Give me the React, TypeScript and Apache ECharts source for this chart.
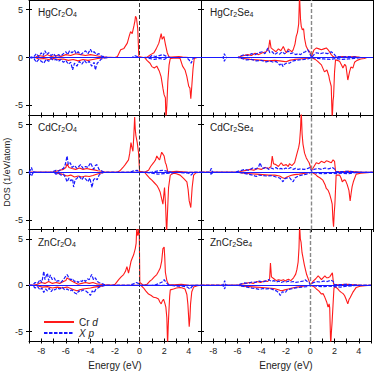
import React, { useEffect, useRef } from "react";
import * as echarts from "echarts";

// ---------- data: [energy (eV), DOS (1/eV/atom)] ----------
const xTicksLabels = [-8, -6, -4, -2, 0, 2, 4];
const yTickValues = [-5, 0, 5];

const hgO_crUp = [[-9,0],[-8.5,0],[-8.2,0.2],[-7.8,0.1],[-7.5,0.3],[-7.2,0.1],[-6.8,0.2],[-6.4,0.1],[-6,0.3],[-5.6,0.2],[-5.2,0.4],[-4.8,0.3],[-4.4,0.2],[-4,0.3],[-3.6,0.2],[-3.2,0.1],[-2.8,0.05],[-2,0],[-1.8,0.1],[-1.54,0.8],[-1.27,0.95],[-1.0,1.5],[-0.85,2.2],[-0.73,2.7],[-0.6,2.5],[-0.46,3.3],[-0.38,3.8],[-0.33,4.3],[-0.25,4.1],[-0.15,3.0],[-0.06,0.1],[0.3,0],[0.63,0.05],[0.9,0.3],[1.17,0.5],[1.35,0.9],[1.57,1.5],[1.76,2.5],[1.84,1.9],[1.98,2.2],[2.1,1.4],[2.25,0.5],[2.4,0.05],[2.6,0.05],[3.2,0.1],[3.5,0.05],[4,0],[5,0]];
const hgO_crDn = [[-9,0],[-8.5,0],[-8.2,-0.15],[-7.8,-0.1],[-7.4,-0.2],[-7,-0.1],[-6.6,-0.2],[-6.2,-0.15],[-5.8,-0.3],[-5.4,-0.2],[-5,-0.35],[-4.6,-0.2],[-4.2,-0.3],[-3.8,-0.2],[-3.4,-0.1],[-3,-0.05],[-2.5,0],[0.4,0],[0.6,-0.3],[0.85,-0.6],[1.0,-0.95],[1.2,-1.1],[1.4,-0.9],[1.6,-1.4],[1.75,-2.0],[1.9,-3.2],[2.0,-3.9],[2.1,-4.2],[2.15,-6.5],[2.22,-5.0],[2.3,-2.5],[2.4,-0.8],[2.5,-0.1],[3.0,-0.05],[3.3,-0.1],[3.5,-0.9],[3.7,-1.3],[3.85,-2.0],[4.0,-3.0],[4.1,-3.2],[4.17,-4.3],[4.25,-3.0],[4.35,-1.2],[4.45,-0.1],[4.7,0],[5,0]];
const hgO_xUp = [[-9,0],[-8.6,0.1],[-8.4,0.4],[-8.2,0.1],[-8.0,0.5],[-7.85,0.2],[-7.7,0.7],[-7.55,0.3],[-7.4,0.5],[-7.2,0.2],[-7.0,0.4],[-6.8,0.1],[-6.6,0.3],[-6.4,0.15],[-6.2,0.4],[-6.0,0.6],[-5.85,0.3],[-5.7,0.7],[-5.5,0.5],[-5.3,0.75],[-5.15,0.4],[-5.0,0.6],[-4.8,0.3],[-4.6,0.5],[-4.4,0.7],[-4.2,0.4],[-4.0,0.85],[-3.85,0.5],[-3.7,0.6],[-3.5,0.3],[-3.3,0.4],[-3.1,0.15],[-2.9,0.1],[-2.6,0],[-0.6,0],[-0.4,0.2],[-0.2,0.1],[0,0],[0.8,0],[1.0,0.2],[1.3,0.1],[1.6,0.2],[1.9,0.3],[2.2,0.1],[2.5,0],[5,0]];
const hgO_xDn = [[-9,0],[-8.6,-0.1],[-8.4,-0.5],[-8.2,-0.2],[-8.0,-0.4],[-7.8,-0.6],[-7.6,-0.2],[-7.4,-0.4],[-7.2,-0.1],[-7.0,-0.3],[-6.8,-0.2],[-6.6,-0.4],[-6.4,-0.2],[-6.2,-0.5],[-6.0,-0.3],[-5.8,-0.7],[-5.6,-0.5],[-5.45,-1.3],[-5.3,-0.6],[-5.1,-0.9],[-4.9,-0.4],[-4.7,-0.7],[-4.5,-0.3],[-4.3,-0.6],[-4.1,-0.4],[-3.9,-0.9],[-3.7,-0.5],[-3.6,-1.3],[-3.45,-0.6],[-3.3,-0.4],[-3.1,-0.15],[-2.9,-0.05],[-2.6,0],[0.5,0],[0.8,-0.1],[1.2,-0.2],[1.6,-0.1],[2.0,-0.2],[2.3,0],[3.8,0],[4.0,-0.2],[4.2,-0.6],[4.35,-0.1],[4.5,0],[5,0]];

const hgSe_crUp = [[-9,0],[-6,0],[-5.8,0.1],[-5.5,0.2],[-5.2,0.3],[-4.9,0.2],[-4.6,0.45],[-4.3,0.3],[-4.0,0.5],[-3.7,0.6],[-3.5,0.9],[-3.4,1.85],[-3.3,1.0],[-3.1,0.8],[-2.9,0.6],[-2.7,0.9],[-2.5,0.7],[-2.3,1.15],[-2.15,0.7],[-2.05,0.5],[-1.9,0.9],[-1.8,0.8],[-1.6,0.6],[-1.5,0.8],[-1.35,1.4],[-1.25,2.2],[-1.15,2.6],[-1.05,3.5],[-0.98,6.5],[-0.9,4.0],[-0.84,3.25],[-0.75,2.9],[-0.65,3.0],[-0.57,2.0],[-0.45,1.2],[-0.3,0.8],[-0.15,0.6],[0,0.1],[0.1,0.5],[0.2,0.8],[0.4,1.0],[0.6,0.9],[0.8,0.8],[1.0,0.9],[1.2,1.0],[1.35,0.8],[1.46,0.6],[1.6,0.3],[1.75,0.1],[1.9,0],[2.5,0.1],[3,0.05],[3.5,0.1],[4,0],[5,0]];
const hgSe_crDn = [[-9,0],[-6,0],[-5.5,-0.1],[-5,-0.2],[-4.5,-0.25],[-4,-0.3],[-3.5,-0.35],[-3,-0.3],[-2.6,-0.35],[-2.3,-0.4],[-2.06,-0.45],[-1.8,-0.3],[-1.4,-0.2],[-1,-0.15],[-0.5,-0.1],[0,0],[0.3,-0.2],[0.5,-0.4],[0.8,-0.77],[1.05,-1.5],[1.25,-1.3],[1.4,-1.9],[1.46,-2.3],[1.6,-3.0],[1.68,-6.5],[1.75,-4.5],[1.79,-4.1],[1.87,-1.5],[1.95,-0.25],[2.1,-0.3],[2.28,-0.4],[2.45,-0.8],[2.55,-1.1],[2.7,-0.7],[2.8,-0.9],[2.95,-2.35],[3.09,-1.5],[3.2,-1.0],[3.36,-1.1],[3.5,-0.5],[3.7,-0.3],[4.0,-0.15],[4.3,-0.1],[4.5,0],[5,0]];
const hgSe_xUp = [[-9,0],[-7.2,0],[-7.1,0.4],[-7.0,0.1],[-6.9,0],[-6.0,0],[-5.8,0.15],[-5.5,0.3],[-5.2,0.2],[-4.9,0.4],[-4.6,0.3],[-4.3,0.5],[-4.0,0.6],[-3.8,0.4],[-3.55,1.0],[-3.4,0.5],[-3.2,0.6],[-3.0,0.3],[-2.8,0.5],[-2.6,0.35],[-2.4,0.6],[-2.2,0.4],[-2.0,0.55],[-1.9,0.7],[-1.7,0.4],[-1.5,0.5],[-1.3,0.3],[-1.1,0.4],[-0.9,0.3],[-0.7,0.5],[-0.5,0.6],[-0.3,0.8],[-0.15,0.4],[0,0],[0.2,0.3],[0.4,0.5],[0.7,0.4],[1.0,0.5],[1.3,0.4],[1.6,0.6],[1.8,0.4],[2.0,0.1],[2.5,0.05],[3,0.1],[4,0],[5,0]];
const hgSe_xDn = [[-9,0],[-7.2,0],[-7.1,-0.4],[-7.0,-0.1],[-6.9,0],[-6.0,0],[-5.7,-0.1],[-5.3,-0.25],[-4.9,-0.2],[-4.5,-0.35],[-4.1,-0.3],[-3.7,-0.45],[-3.4,-0.35],[-3.1,-0.5],[-2.9,-0.4],[-2.7,-0.6],[-2.6,-0.8],[-2.45,-0.6],[-2.33,-0.95],[-2.2,-0.7],[-2.0,-0.55],[-1.8,-0.6],[-1.6,-0.4],[-1.3,-0.3],[-1.0,-0.25],[-0.6,-0.2],[-0.3,-0.15],[0,0],[0.5,-0.1],[1,-0.15],[1.5,-0.2],[2,-0.1],[2.5,-0.2],[3,-0.15],[3.5,-0.1],[4,0],[5,0]];

const cdO_crUp = [[-9,0],[-7,0],[-6.8,0.1],[-6.5,0.2],[-6.2,0.3],[-6.0,0.5],[-5.9,0.9],[-5.75,0.5],[-5.5,0.4],[-5.2,0.3],[-4.9,0.45],[-4.6,0.3],[-4.3,0.4],[-4.0,0.3],[-3.7,0.25],[-3.4,0.15],[-3.1,0.1],[-2.8,0],[-1.8,0],[-1.57,0.2],[-1.35,0.5],[-1.17,0.8],[-0.9,1.3],[-0.8,2.0],[-0.7,3.1],[-0.62,2.6],[-0.54,2.2],[-0.47,3.8],[-0.4,5.8],[-0.35,4.5],[-0.3,3.85],[-0.19,3.1],[-0.08,2.0],[0,0.1],[0.4,0],[0.73,0.2],[0.9,0.6],[1.14,1.0],[1.3,1.3],[1.4,1.7],[1.55,1.4],[1.63,1.3],[1.8,2.1],[1.9,1.9],[2.0,1.7],[2.1,1.0],[2.17,0.8],[2.3,0.05],[2.6,0.05],[3.0,0.1],[3.5,0.05],[4,0],[5,0]];
const cdO_crDn = [[-9,0],[-7,0],[-6.7,-0.1],[-6.3,-0.2],[-5.9,-0.4],[-5.6,-0.3],[-5.3,-0.5],[-5.0,-0.4],[-4.7,-0.5],[-4.4,-0.4],[-4.1,-0.45],[-3.8,-0.35],[-3.5,-0.2],[-3.2,-0.1],[-2.8,0],[0.4,0],[0.6,-0.3],[0.8,-0.6],[1.0,-0.83],[1.2,-1.1],[1.4,-1.37],[1.55,-1.7],[1.68,-2.1],[1.8,-2.8],[1.9,-3.35],[2.03,-1.6],[2.12,-3.5],[2.2,-6.5],[2.28,-4.0],[2.36,-1.6],[2.5,-0.3],[2.76,-0.1],[3.0,-0.15],[3.3,-0.3],[3.58,-0.65],[3.85,-1.0],[3.95,-1.8],[4.04,-3.0],[4.17,-3.7],[4.28,-1.6],[4.4,-0.3],[4.6,-0.05],[5,0]];
const cdO_xUp = [[-9,0],[-8.9,0.2],[-8.8,0.5],[-8.7,0.1],[-8.5,0],[-7.2,0],[-7.0,0.1],[-6.8,0.2],[-6.6,0.1],[-6.4,0.3],[-6.2,0.4],[-6.05,0.8],[-5.9,1.7],[-5.8,0.8],[-5.64,1.0],[-5.5,0.5],[-5.3,0.7],[-5.1,0.4],[-4.95,0.6],[-4.8,0.8],[-4.6,0.4],[-4.4,0.6],[-4.2,0.5],[-4.0,1.0],[-3.85,0.6],[-3.74,0.3],[-3.6,0.7],[-3.47,0.8],[-3.3,0.3],[-3.1,0.15],[-2.9,0],[-0.8,0],[-0.5,0.15],[-0.2,0.2],[0,0],[1.0,0],[1.5,0.15],[1.9,0.2],[2.3,0.1],[2.6,0],[5,0]];
const cdO_xDn = [[-9,0],[-8.9,-0.2],[-8.8,-0.4],[-8.7,-0.1],[-8.5,0],[-7.0,0],[-6.8,-0.2],[-6.6,-0.1],[-6.4,-0.3],[-6.2,-0.2],[-6.05,-0.5],[-5.9,-1.0],[-5.75,-0.6],[-5.6,-0.9],[-5.45,-0.7],[-5.37,-1.55],[-5.25,-0.8],[-5.1,-0.65],[-4.95,-0.4],[-4.8,-0.6],[-4.7,-0.8],[-4.55,-0.5],[-4.4,-0.7],[-4.2,-1.0],[-4.05,-0.6],[-3.87,-1.6],[-3.75,-0.8],[-3.6,-0.6],[-3.45,-0.8],[-3.3,-0.3],[-3.1,-0.1],[-2.9,0],[0.5,0],[1.0,-0.1],[1.5,-0.2],[2.0,-0.15],[2.5,-0.1],[3,0],[4.0,-0.1],[4.2,-0.3],[4.4,0],[5,0]];

const cdSe_crUp = [[-9,0],[-6,0],[-5.7,0.1],[-5.3,0.2],[-5.0,0.3],[-4.7,0.2],[-4.4,0.4],[-4.1,0.3],[-3.8,0.5],[-3.5,0.4],[-3.3,0.6],[-3.2,1.7],[-3.1,0.9],[-2.9,0.8],[-2.7,0.6],[-2.47,1.0],[-2.3,0.7],[-2.06,0.8],[-1.9,0.6],[-1.8,0.9],[-1.6,0.7],[-1.38,1.0],[-1.2,1.9],[-1.05,2.6],[-0.98,3.1],[-0.9,4.5],[-0.84,6.5],[-0.77,4.0],[-0.7,2.95],[-0.57,2.0],[-0.43,1.5],[-0.3,1.2],[-0.2,1.0],[-0.1,0.6],[0,0.2],[0.1,0.4],[0.38,1.0],[0.6,0.9],[0.79,1.15],[1.05,1.0],[1.2,1.2],[1.33,1.15],[1.6,1.0],[1.75,1.3],[1.87,1.15],[1.95,0.1],[2.3,0.05],[3,0.1],[3.6,0.05],[4.2,0],[5,0]];
const cdSe_crDn = [[-9,0],[-6,0],[-5.5,-0.1],[-5,-0.15],[-4.5,-0.2],[-4,-0.25],[-3.5,-0.3],[-3,-0.3],[-2.6,-0.4],[-2.4,-0.55],[-2.2,-0.65],[-2.0,-0.5],[-1.7,-0.35],[-1.4,-0.25],[-1,-0.2],[-0.5,-0.1],[0,0],[0.3,-0.2],[0.5,-0.45],[0.7,-0.6],[0.92,-0.83],[1.1,-1.3],[1.2,-1.7],[1.35,-1.9],[1.46,-2.25],[1.6,-2.9],[1.68,-3.35],[1.74,-5.0],[1.79,-5.7],[1.85,-4.2],[1.9,-3.3],[2.0,-0.3],[2.28,-0.3],[2.4,-0.6],[2.5,-1.0],[2.65,-0.8],[2.76,-0.85],[2.9,-1.3],[3.04,-1.9],[3.14,-3.0],[3.22,-2.2],[3.3,-1.5],[3.4,-1.0],[3.63,-0.2],[4.0,-0.1],[4.5,-0.05],[5,0]];
const cdSe_xUp = [[-9,0],[-8.3,0],[-8.2,0.3],[-8.15,0.4],[-8.1,0.1],[-8.0,0],[-6.2,0],[-6.0,0.1],[-5.7,0.2],[-5.4,0.3],[-5.1,0.2],[-4.8,0.45],[-4.5,0.35],[-4.3,0.6],[-4.2,1.0],[-4.05,0.5],[-3.9,0.4],[-3.7,0.55],[-3.5,0.3],[-3.3,0.45],[-3.1,0.35],[-2.9,0.5],[-2.7,0.3],[-2.5,0.4],[-2.3,0.3],[-2.1,0.45],[-1.9,0.35],[-1.7,0.5],[-1.5,0.3],[-1.3,0.4],[-1.1,0.3],[-0.9,0.35],[-0.6,0.3],[-0.3,0.4],[-0.1,0.5],[0,0.1],[0.2,0.3],[0.5,0.4],[0.8,0.3],[1.1,0.45],[1.4,0.35],[1.7,0.5],[1.9,0.3],[2.0,0.05],[3,0.1],[3.8,0],[5,0]];
const cdSe_xDn = [[-9,0],[-8.3,0],[-8.2,-0.2],[-8.1,-0.1],[-8.0,0],[-6.0,0],[-5.6,-0.1],[-5.2,-0.2],[-4.8,-0.3],[-4.5,-0.45],[-4.3,-0.3],[-4.0,-0.35],[-3.6,-0.4],[-3.2,-0.35],[-2.9,-0.5],[-2.6,-0.6],[-2.45,-0.8],[-2.33,-1.0],[-2.2,-0.7],[-2.0,-0.6],[-1.8,-0.55],[-1.65,-0.8],[-1.5,-1.0],[-1.35,-0.6],[-1.1,-0.4],[-0.8,-0.3],[-0.4,-0.2],[0,0],[0.5,-0.1],[1.0,-0.15],[1.5,-0.1],[2.0,-0.15],[2.5,-0.1],[3.0,-0.15],[3.5,-0.05],[4,0],[5,0]];

const znO_crUp = [[-9,0],[-8.6,0],[-8.3,0.1],[-8.0,0.3],[-7.7,0.2],[-7.4,0.4],[-7.1,0.2],[-6.8,0.3],[-6.5,0.2],[-6.2,0.4],[-6.0,0.5],[-5.9,0.8],[-5.6,0.5],[-5.3,0.3],[-5.0,0.1],[-4.7,0.2],[-4.4,0.3],[-4.1,0.2],[-3.8,0.3],[-3.5,0.15],[-3.2,0.1],[-2.9,0.05],[-2.2,0],[-2.0,0.1],[-1.7,0.6],[-1.5,0.9],[-1.3,1.15],[-1.15,1.5],[-1.03,2.0],[-0.9,1.3],[-0.8,1.9],[-0.7,2.55],[-0.6,2.9],[-0.49,3.25],[-0.35,3.95],[-0.28,4.5],[-0.22,6.5],[-0.18,5.5],[-0.14,5.35],[-0.08,5.8],[-0.03,6.5],[0.02,0.3],[0.3,0],[0.6,0.1],[0.8,0.4],[1.0,0.6],[1.2,0.9],[1.4,1.15],[1.55,1.5],[1.68,1.85],[1.8,2.6],[1.9,3.95],[2.0,4.1],[2.05,3.0],[2.1,1.4],[2.22,0.5],[2.36,0.05],[2.8,0.05],[3.4,0.1],[4,0],[5,0]];
const znO_crDn = [[-9,0],[-8.5,0],[-8.2,-0.1],[-7.9,-0.2],[-7.5,-0.15],[-7.1,-0.3],[-6.7,-0.2],[-6.3,-0.3],[-5.9,-0.2],[-5.6,-0.35],[-5.3,-0.5],[-5.1,-0.6],[-4.9,-0.5],[-4.6,-0.4],[-4.3,-0.35],[-4.0,-0.3],[-3.7,-0.2],[-3.4,-0.15],[-3.1,-0.1],[-2.8,0],[0.1,0],[0.33,-0.3],[0.5,-0.6],[0.73,-0.95],[0.95,-1.1],[1.14,-1.3],[1.35,-1.35],[1.54,-1.47],[1.65,-1.8],[1.76,-2.0],[1.85,-1.7],[1.95,-1.5],[2.05,-1.9],[2.14,-2.35],[2.22,-3.5],[2.28,-6.5],[2.33,-4.5],[2.38,-3.0],[2.45,-1.2],[2.5,-0.5],[2.76,-0.4],[3.0,-0.3],[3.3,-0.25],[3.5,-0.3],[3.7,-0.4],[3.85,-1.0],[3.93,-2.0],[4.04,-4.45],[4.1,-3.5],[4.15,-2.0],[4.25,-0.7],[4.4,-0.2],[4.7,-0.05],[5,0]];
const znO_xUp = [[-9,0],[-8.7,0],[-8.5,0.3],[-8.3,0.2],[-8.1,0.6],[-7.95,0.3],[-7.8,1.5],[-7.7,0.6],[-7.6,1.0],[-7.5,1.3],[-7.4,0.5],[-7.26,1.1],[-7.1,0.6],[-6.95,0.8],[-6.8,0.4],[-6.6,0.5],[-6.4,0.3],[-6.2,0.6],[-6.05,0.9],[-5.9,1.15],[-5.75,0.8],[-5.6,0.6],[-5.45,0.7],[-5.3,0.4],[-5.15,0.5],[-5.0,0.3],[-4.85,0.5],[-4.7,0.4],[-4.55,0.6],[-4.4,0.4],[-4.25,0.7],[-4.1,0.6],[-3.9,1.15],[-3.75,0.6],[-3.6,0.8],[-3.45,0.4],[-3.3,0.3],[-3.1,0.2],[-2.9,0.1],[-2.65,0],[-0.8,0],[-0.5,0.15],[-0.27,0.3],[-0.1,0.2],[0.05,0],[1.2,0],[1.6,0.2],[1.9,0.4],[2.0,0.6],[2.15,0.3],[2.4,0],[5,0]];
const znO_xDn = [[-9,0],[-8.7,0],[-8.5,-0.3],[-8.3,-0.15],[-8.1,-0.5],[-7.95,-0.3],[-7.8,-0.77],[-7.65,-0.4],[-7.5,-0.6],[-7.35,-0.3],[-7.2,-0.7],[-7.05,-0.4],[-6.9,-0.5],[-6.7,-0.3],[-6.5,-0.4],[-6.3,-0.2],[-6.1,-0.5],[-5.9,-0.4],[-5.7,-0.6],[-5.5,-0.5],[-5.3,-0.8],[-5.1,-0.95],[-4.95,-0.6],[-4.8,-0.7],[-4.6,-0.5],[-4.4,-0.6],[-4.2,-0.8],[-4.0,-1.1],[-3.85,-0.6],[-3.7,-0.8],[-3.55,-0.4],[-3.4,-0.3],[-3.2,-0.15],[-2.9,-0.05],[-2.65,0],[2.5,0],[3.0,-0.1],[3.5,-0.1],[3.9,-0.2],[4.1,-0.4],[4.3,-0.1],[4.5,0],[5,0]];

const znSe_crUp = [[-9,0],[-6,0],[-5.7,0.1],[-5.3,0.2],[-5.0,0.3],[-4.7,0.2],[-4.4,0.4],[-4.1,0.3],[-3.8,0.45],[-3.5,0.4],[-3.35,0.7],[-3.28,2.4],[-3.2,0.9],[-3.0,0.7],[-2.8,0.5],[-2.6,0.6],[-2.4,0.5],[-2.2,0.6],[-2.06,0.45],[-1.9,0.6],[-1.8,0.65],[-1.6,0.5],[-1.38,0.8],[-1.2,1.2],[-1.1,1.7],[-1.0,2.5],[-0.93,4.0],[-0.88,6.5],[-0.82,5.0],[-0.76,4.65],[-0.68,3.5],[-0.62,3.1],[-0.49,2.2],[-0.3,1.15],[-0.1,0.45],[0,0.1],[0.1,0.2],[0.24,0.45],[0.45,0.7],[0.65,1.0],[0.8,0.8],[0.92,0.6],[1.05,0.8],[1.2,1.0],[1.35,0.8],[1.46,0.8],[1.6,0.9],[1.75,1.2],[1.82,1.33],[1.92,0.1],[2.3,0.05],[3,0.1],[3.6,0.05],[4.2,0],[5,0]];
const znSe_crDn = [[-9,0],[-6,0],[-5.5,-0.1],[-5,-0.15],[-4.5,-0.2],[-4,-0.25],[-3.5,-0.3],[-3,-0.35],[-2.7,-0.45],[-2.5,-0.55],[-2.33,-0.6],[-2.1,-0.5],[-1.8,-0.4],[-1.5,-0.3],[-1.1,-0.2],[-0.6,-0.1],[0,0],[0.3,-0.15],[0.5,-0.4],[0.7,-0.6],[0.92,-0.95],[1.05,-0.9],[1.2,-1.3],[1.35,-1.8],[1.46,-2.35],[1.55,-2.0],[1.6,-2.4],[1.68,-6.5],[1.74,-5.0],[1.79,-4.1],[1.87,-2.2],[1.95,-0.3],[2.1,-0.2],[2.28,-0.4],[2.4,-0.6],[2.55,-0.77],[2.7,-0.9],[2.82,-1.1],[2.95,-1.5],[3.09,-2.0],[3.2,-1.5],[3.3,-1.3],[3.5,-0.77],[3.77,-0.25],[4.1,-0.1],[4.5,-0.05],[5,0]];
const znSe_xUp = [[-9,0],[-7.2,0],[-7.1,0.3],[-7.05,0.5],[-7.0,0.1],[-6.9,0],[-6.0,0],[-5.7,0.15],[-5.4,0.25],[-5.1,0.2],[-4.8,0.35],[-4.5,0.3],[-4.2,0.45],[-3.9,0.35],[-3.6,0.5],[-3.4,0.6],[-3.2,0.4],[-3.0,0.5],[-2.8,0.35],[-2.6,0.45],[-2.4,0.3],[-2.2,0.4],[-2.0,0.35],[-1.8,0.45],[-1.6,0.35],[-1.4,0.4],[-1.2,0.3],[-1.0,0.35],[-0.8,0.4],[-0.6,0.45],[-0.43,0.6],[-0.25,0.4],[-0.1,0.3],[0,0.05],[0.2,0.25],[0.5,0.4],[0.8,0.35],[1.1,0.45],[1.4,0.4],[1.7,0.55],[1.9,0.4],[2.0,0.05],[3,0.1],[4,0],[5,0]];
const znSe_xDn = [[-9,0],[-7.2,0],[-7.1,-0.3],[-7.05,-0.4],[-7.0,-0.1],[-6.9,0],[-6.0,0],[-5.6,-0.1],[-5.2,-0.2],[-4.8,-0.3],[-4.5,-0.35],[-4.2,-0.45],[-3.9,-0.35],[-3.6,-0.4],[-3.3,-0.35],[-3.0,-0.5],[-2.8,-0.6],[-2.6,-0.8],[-2.47,-1.1],[-2.3,-0.7],[-2.06,-0.8],[-1.9,-0.5],[-1.6,-0.4],[-1.3,-0.3],[-1.0,-0.25],[-0.6,-0.2],[-0.3,-0.15],[0,0],[0.5,-0.1],[1,-0.15],[1.5,-0.1],[2,-0.15],[2.5,-0.2],[3,-0.1],[3.5,-0.05],[4,0],[5,0]];

const panelTitles = [
  ["HgCr", "2", "O", "4"],
  ["HgCr", "2", "Se", "4"],
  ["CdCr", "2", "O", "4"],
  ["CdCr", "2", "Se", "4"],
  ["ZnCr", "2", "O", "4"],
  ["ZnCr", "2", "Se", "4"],
];
const panelData = [
  [hgO_crUp, hgO_crDn, hgO_xUp, hgO_xDn],
  [hgSe_crUp, hgSe_crDn, hgSe_xUp, hgSe_xDn],
  [cdO_crUp, cdO_crDn, cdO_xUp, cdO_xDn],
  [cdSe_crUp, cdSe_crDn, cdSe_xUp, cdSe_xDn],
  [znO_crUp, znO_crDn, znO_xUp, znO_xDn],
  [znSe_crUp, znSe_crDn, znSe_xUp, znSe_xDn],
];
const seriesNames = ["Cr d", "X p"];

const FONT = "'Liberation Sans', Arial, Helvetica, sans-serif";
const RED = "#ff1a1a";
const BLUE = "#1a1aff";
const BLUE_DASH = [3.5, 1.5];

function buildOption() {
  const colLeft = [29, 201];
  const colWidth = 172;
  const rowTop = [-1, 115, 229.5];
  const rowHeight = [116, 114.5, 115.5];

  const grid: any[] = [];
  const xAxis: any[] = [];
  const yAxis: any[] = [];
  const series: any[] = [];
  const graphic: any[] = [];

  const lineOn = { show: true, onZero: false, lineStyle: { color: "#000", width: 1 } };
  const lineOff = { show: false, onZero: false };

  for (let i = 0; i < 6; i++) {
    const row = Math.floor(i / 2);
    const col = i % 2;
    const isBottom = row === 2;
    const isLeft = col === 0;
    grid.push({ left: colLeft[col], top: rowTop[row], width: colWidth, height: rowHeight[row] });

    const xBase = {
      type: "value", gridIndex: i, min: -9, max: 5, interval: 1,
      splitLine: { show: false },
    };
    xAxis.push({
      ...xBase, position: "bottom",
      axisLine: lineOn,
      axisTick: { show: true, inside: false, length: 2.5, lineStyle: { color: "#000" } },
      axisLabel: {
        show: isBottom, margin: 5, fontSize: 9, color: "#222", fontFamily: FONT,
        formatter: (v: number) => (xTicksLabels.indexOf(v) >= 0 ? String(v) : ""),
      },
      name: isBottom ? "Energy (eV)" : "",
      nameLocation: "middle", nameGap: 19,
      nameTextStyle: { fontSize: 10, color: "#222", fontFamily: FONT },
    });
    xAxis.push({
      ...xBase, position: "bottom",
      axisLine: lineOff,
      axisTick: { show: true, inside: true, length: 2.5, lineStyle: { color: "#000" } },
      axisLabel: { show: false },
    });
    xAxis.push({
      ...xBase, position: "top",
      axisLine: lineOn,
      axisTick: { show: false },
      axisLabel: { show: false },
    });

    const yBase = { type: "value", gridIndex: i, min: -6, max: 6, splitLine: { show: false } };
    yAxis.push({
      ...yBase, position: "left",
      axisLine: lineOn,
      axisTick: { show: true, inside: false, length: 3, customValues: yTickValues, lineStyle: { color: "#000" } },
      axisLabel: { show: isLeft, margin: 6, fontSize: 9, color: "#222", fontFamily: FONT, customValues: yTickValues },
      name: i === 2 ? "DOS (1/eV/atom)" : "",
      nameLocation: "middle", nameGap: 17,
      nameTextStyle: { fontSize: 9, color: "#222", fontFamily: FONT },
    });
    yAxis.push({
      ...yBase, position: "left",
      axisLine: lineOff,
      axisTick: { show: true, inside: true, length: 3, customValues: yTickValues, lineStyle: { color: "#000" } },
      axisLabel: { show: false, customValues: yTickValues },
    });
    yAxis.push({
      ...yBase, position: "right",
      axisLine: lineOn,
      axisTick: { show: false },
      axisLabel: { show: false },
    });

    const [crUp, crDn, xUp, xDn] = panelData[i];
    const common = {
      type: "line", xAxisIndex: i * 3, yAxisIndex: i * 3,
      showSymbol: false, symbol: "none", clip: true, silent: true,
    };
    series.push({
      ...common, name: seriesNames[0], data: crUp,
      lineStyle: { color: RED, width: 1.1 }, itemStyle: { color: RED },
      markLine: {
        silent: true, symbol: ["none", "none"], label: { show: false },
        lineStyle: { type: [4, 2], color: isLeft ? "#333" : "#888", width: isLeft ? 1 : 1.4 },
        data: [{ xAxis: 0 }],
      },
    });
    series.push({ ...common, name: seriesNames[0], data: crDn, lineStyle: { color: RED, width: 1.1 }, itemStyle: { color: RED } });
    series.push({ ...common, name: seriesNames[1], data: xUp, lineStyle: { color: BLUE, width: 1.2, type: BLUE_DASH }, itemStyle: { color: BLUE } });
    series.push({
      ...common, name: seriesNames[1], data: xDn,
      lineStyle: { color: BLUE, width: 1.2, type: BLUE_DASH }, itemStyle: { color: BLUE },
      markLine: {
        silent: true, symbol: ["none", "none"], label: { show: false },
        lineStyle: { type: "solid", color: BLUE, width: 1 },
        data: [{ yAxis: 0 }],
      },
    });

    const t = panelTitles[i];
    graphic.push({
      type: "text",
      left: colLeft[col] + 9,
      top: [6, 121, 236][row],
      silent: true,
      style: {
        text: `{a|${t[0]}}{s|${t[1]}}{a|${t[2]}}{s|${t[3]}}`,
        rich: {
          a: { fontSize: 10, fontFamily: FONT, fill: "#222", lineHeight: 13 },
          s: { fontSize: 7, fontFamily: FONT, fill: "#222", padding: [5, 0, 0, 0], lineHeight: 13 },
        },
      },
    });
  }

  return {
    animation: false,
    backgroundColor: "#fff",
    textStyle: { fontFamily: FONT },
    grid, xAxis, yAxis, series, graphic,
    legend: {
      data: seriesNames,
      orient: "vertical",
      left: 38, top: 312,
      itemWidth: 30, itemHeight: 11, itemGap: 1,
      selectedMode: false,
      itemStyle: { opacity: 0 },
      textStyle: {
        fontSize: 10, color: "#222", fontFamily: FONT,
        rich: {
          r: { fontSize: 10, fontFamily: FONT, fill: "#222", color: "#222" },
          i: { fontSize: 10, fontFamily: FONT, fontStyle: "italic", fill: "#222", color: "#222" },
        },
      },
      formatter: (name: string) => (name === "Cr d" ? "{r|Cr }{i|d}" : "{i|X p}"),
    },
  };
}

export default function App() {
  const ref = useRef<HTMLDivElement>(null);
  useEffect(() => {
    if (!ref.current) return;
    const chart = echarts.init(ref.current, undefined, { renderer: "svg" });
    chart.setOption(buildOption() as any);
    return () => chart.dispose();
  }, []);
  return (
    <div
      ref={ref}
      style={{ position: "absolute", left: 0, top: 0, width: 374, height: 371, background: "#fff" }}
    />
  );
}
